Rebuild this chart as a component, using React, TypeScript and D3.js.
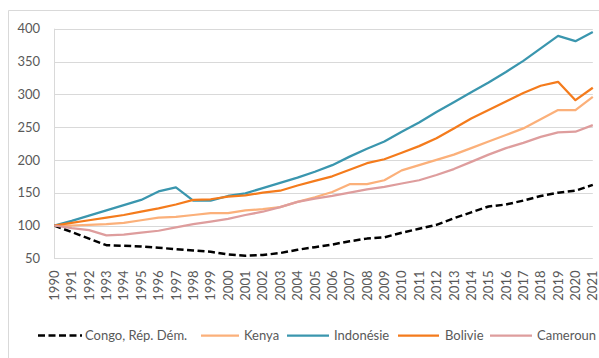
import React from "react";
import * as d3 from "d3";

// Indice base 100 en 1990
const years: number[] = d3.range(1990, 2022);

const congo = [100, 90, 80, 70, 69, 68, 66, 64, 62, 60, 56, 54, 55, 58, 63, 67, 71, 76, 80, 82, 89, 95, 101, 111, 120, 129, 132, 138, 145, 150, 153, 162];
const kenya = [100, 100, 101, 102, 104, 108, 112, 113, 116, 119, 119, 123, 125, 128, 136, 143, 151, 163, 163, 169, 184, 192, 200, 208, 218, 228, 238, 248, 262, 276, 276, 296];
const indonesie = [100, 107, 115, 123, 131, 139, 152, 158, 138, 138, 145, 149, 157, 165, 173, 182, 192, 205, 217, 228, 243, 257, 273, 288, 303, 318, 334, 351, 370, 389, 381, 395];
const bolivie = [100, 104, 108, 112, 116, 121, 126, 132, 139, 140, 144, 146, 150, 153, 161, 168, 175, 185, 195, 201, 211, 221, 233, 248, 263, 276, 289, 302, 313, 319, 291, 310];
const cameroun = [100, 96, 93, 85, 86, 89, 92, 97, 102, 106, 110, 116, 121, 128, 136, 141, 145, 150, 155, 159, 164, 169, 177, 186, 197, 208, 218, 226, 235, 242, 243, 253];

const yTicks = [50, 100, 150, 200, 250, 300, 350, 400];

const seriesNames = ["Congo, Rép. Dém.", "Kenya", "Indonésie", "Bolivie", "Cameroun"];
const seriesValues = [congo, kenya, indonesie, bolivie, cameroun];
const seriesColors = ["#000000", "#FBB07A", "#3A96AE", "#F47B1C", "#DE9D9D"];

const W = 599;
const H = 358;
const FONT = "Lato, 'Liberation Sans', sans-serif";
const TEXT = "#595959";
const GRID = "#D9D9D9";

// horizontal placement of each legend entry: line start, line end, label start
const legendPos = [
  [38, 82, 85],
  [201, 239, 244],
  [287, 329, 334],
  [398, 439, 445],
  [490, 532, 537],
];

export default function App() {
  const x = d3.scalePoint<number>().domain(years).range([54.3, 592.8]);
  const y = d3.scaleLinear().domain([50, 400]).range([258.3, 28.7]);

  const line = d3
    .line<number>()
    .x((_, i) => x(years[i]) as number)
    .y((d) => y(d));

  const legendY = 335.5;

  return (
    <div style={{ position: "fixed", left: 0, top: 0 }}>
      <svg width={W} height={H} style={{ display: "block", background: "#fff" }}>
        {/* chart frame */}
        <line x1={8.5} y1={10.5} x2={W} y2={10.5} stroke={GRID} />
        <line x1={8.5} y1={10.5} x2={8.5} y2={H} stroke={GRID} />

        {/* gridlines */}
        {yTicks.map((t) => (
          <line
            key={t}
            x1={54}
            x2={592.8}
            y1={Math.round(y(t)) + 0.5}
            y2={Math.round(y(t)) + 0.5}
            stroke={GRID}
            strokeWidth={1}
          />
        ))}
        <line x1={54.5} x2={54.5} y1={y(400)} y2={y(50)} stroke={GRID} />

        {/* y labels */}
        {yTicks.map((t) => (
          <text
            key={t}
            x={40}
            y={y(t)}
            dy="0.36em"
            textAnchor="end"
            fontFamily={FONT}
            fontSize={13}
            fill={TEXT}
          >
            {t}
          </text>
        ))}

        {/* x labels */}
        {years.map((yr) => (
          <text
            key={yr}
            transform={`translate(${x(yr)},270.5) rotate(-90)`}
            dy="0.36em"
            textAnchor="end"
            fontFamily={FONT}
            fontSize={13}
            fill={TEXT}
          >
            {yr}
          </text>
        ))}

        {/* series */}
        {seriesValues.map((vals, i) => (
          <path
            key={seriesNames[i]}
            d={line(vals) || ""}
            fill="none"
            stroke={seriesColors[i]}
            strokeWidth={i === 0 ? 2.5 : 2.25}
            strokeDasharray={i === 0 ? "7,3.5" : undefined}
            strokeLinejoin="round"
          />
        ))}

        {/* legend */}
        {seriesNames.map((name, i) => (
          <g key={name}>
            <line
              x1={legendPos[i][0]}
              x2={legendPos[i][1]}
              y1={legendY}
              y2={legendY}
              stroke={seriesColors[i]}
              strokeWidth={i === 0 ? 2.5 : 2.25}
              strokeDasharray={i === 0 ? "7,3.5" : undefined}
            />
            <text
              x={legendPos[i][2]}
              y={legendY}
              dy="0.36em"
              fontFamily={FONT}
              fontSize={13}
              fill={TEXT}
            >
              {name}
            </text>
          </g>
        ))}
      </svg>
    </div>
  );
}
